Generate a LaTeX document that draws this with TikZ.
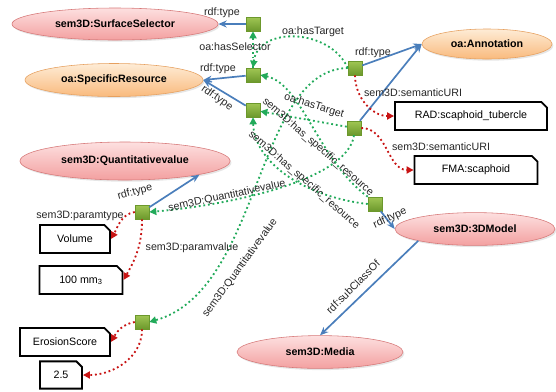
\documentclass[tikz,border=0pt]{standalone}
\usepackage{fontspec}
\setmainfont{Liberation Sans}
\usetikzlibrary{positioning, arrows.meta, shapes.geometric, shapes.misc, shadows}

\definecolor{relblue}{RGB}{74,126,187}
\definecolor{relgreen}{RGB}{34,170,90}
\definecolor{relred}{RGB}{200,20,20}
\definecolor{pinktop}{RGB}{253,224,224}
\definecolor{pinkbot}{RGB}{243,160,160}
\definecolor{pinkline}{RGB}{214,120,120}
\definecolor{orangetop}{RGB}{254,236,214}
\definecolor{orangebot}{RGB}{249,186,125}
\definecolor{orangeline}{RGB}{230,160,95}
\definecolor{blanktop}{RGB}{160,198,84}
\definecolor{blankbot}{RGB}{108,152,44}

\begin{document}
\begin{tikzpicture}[x=0.025cm, y=-0.025cm,
    font=\fontsize{7.6}{9}\selectfont,
    semclass/.style={ellipse, draw=pinkline, top color=pinktop, bottom color=pinkbot,
        inner sep=0pt, font=\fontsize{7.6}{9}\selectfont\bfseries,
        drop shadow={shadow xshift=1pt, shadow yshift=-1.2pt, opacity=0.2}},
    oaclass/.style={semclass, draw=orangeline, top color=orangetop, bottom color=orangebot},
    bnode/.style={rectangle, minimum size=0.35cm, inner sep=0pt, draw=blankbot,
        top color=blanktop, bottom color=blankbot},
    literal/.style={chamfered rectangle, chamfered rectangle corners=north east,
        chamfered rectangle sep=2pt, draw=black, line width=1.3pt, fill=white,
        minimum height=0.7cm, inner sep=1pt},
    typeof/.style={draw=relblue, line width=1.2pt, -{Stealth[length=6pt, width=5pt]}},
    objlink/.style={draw=relgreen, line width=1.3pt, dotted, -{Triangle[length=5pt, width=5pt]}},
    datalink/.style={draw=relred, line width=1.3pt, dotted, -{Triangle[length=5pt, width=5pt]}},
    lbl/.style={inner sep=0.5pt, text=black!85}]

    \useasboundingbox (0,0) rectangle (556,391);

    % Classes
    \node[semclass, minimum width=5.15cm, minimum height=0.8cm] (SS) at (115,24) {sem3D:SurfaceSelector};
    \node[oaclass, minimum width=4.45cm, minimum height=0.825cm] (SR) at (114,80) {oa:SpecificResource};
    \node[oaclass, minimum width=3.25cm, minimum height=0.75cm] (AN) at (487,44) {oa:Annotation};
    \node[semclass, minimum width=5.25cm, minimum height=0.95cm] (QV) at (125,161) {sem3D:Quantitativevalue};
    \node[semclass, minimum width=4cm, minimum height=0.82cm] (TM) at (475,229) {sem3D:3DModel};
    \node[semclass, minimum width=4.15cm, minimum height=0.82cm] (ME) at (320,352) {sem3D:Media};

    % Blank nodes
    \node[bnode] (sel) at (253,24) {};
    \node[bnode] (res1) at (253,75) {};
    \node[bnode] (res2) at (253,110) {};
    \node[bnode] (ann1) at (355,68) {};
    \node[bnode] (ann2) at (354,128) {};
    \node[bnode] (mod) at (375,204) {};
    \node[bnode] (qv1) at (142,212) {};
    \node[bnode] (qv2) at (142,322) {};

    % Literals
    \node[literal, minimum width=3.8cm] (RAD) at (471,116) {RAD:scaphoid\_tubercle};
    \node[literal, minimum width=3.075cm] (FMA) at (476,170) {FMA:scaphoid};
    \node[literal, minimum width=1.75cm] (VOL) at (75,239) {Volume};
    \node[literal, minimum width=2.075cm] (MM) at (81,280) {100 mm\textsubscript{3}};
    \node[literal, minimum width=2.25cm] (ES) at (65,342) {ErosionScore};
    \node[literal, minimum width=1.05cm, minimum height=0.68cm] (VAL) at (61,375) {2.5};

    % rdf:type links
    \draw[typeof] (sel) -- (SS.east);
    \draw[typeof] (res1) -- (SR.east);
    \draw[typeof] (res2) -- (SR.east);
    \draw[typeof] (ann1) -- (AN.west);
    \draw[typeof] (ann2) -- (AN.west);
    \draw[typeof] (mod) -- (TM.west);
    \draw[typeof] (qv1) -- (QV.south east);
    \draw[typeof] (TM.south west) -- (ME.north);

    % Object links
    \draw[objlink] (res1) -- (sel);
    \draw[objlink] (ann1.west) .. controls (330,28) and (258,26) .. (res1.north);
    \draw[objlink] (ann2) -- (res2);
    \draw[objlink] (mod.north west) .. controls (318,160) and (302,84) .. (res1.east);
    \draw[objlink] (mod.west) .. controls (300,196) and (254,160) .. (res2.south);
    \draw[objlink] (ann2.south) .. controls (348,180) and (230,205) .. (qv1.east);
    \draw[objlink] (ann1.west) .. controls (255,70) and (262,290) .. (qv2.east);

    % Data links
    \draw[datalink] (ann1.south) to[out=-90, in=180] (RAD.west);
    \draw[datalink] (ann2.east) to[out=0, in=180] (FMA.west);
    \draw[datalink] (qv1.west) to[out=190, in=60] (VOL.east);
    \draw[datalink] (qv1.south) to[out=-90, in=60] (MM.east);
    \draw[datalink] (qv2.west) to[out=190, in=60] (ES.east);
    \draw[datalink] (qv2.south) to[out=-90, in=0] (VAL.east);

    % Labels
    \node[lbl] (l1) at (222,13) {rdf:type};
    \node[lbl] (l2) at (218,69) {rdf:type};
    \node[lbl, rotate=-35] (l3) at (217,98) {rdf:type};
    \node[lbl] (l4) at (235,47) {oa:hasSelector};
    \node[lbl] (l5) at (313,32) {oa:hasTarget};
    \node[lbl] (l6) at (373,53) {rdf:type};
    \node[lbl, rotate=-17] (l7) at (314,106) {oa:hasTarget};
    \node[lbl] (l8) at (413,93) {sem3D:semanticURI};
    \node[lbl] (l9) at (441,147) {sem3D:semanticURI};
    \node[lbl, rotate=-41] (l10) at (318,147) {sem3D:has\_specific\_resource};
    \node[lbl, rotate=-41] (l11) at (304,180) {sem3D:has\_specific\_resource};
    \node[lbl, rotate=25] (l12) at (390,218) {rdf:type};
    \node[lbl, rotate=15] (l13) at (135,192) {rdf:type};
    \node[lbl, rotate=12] (l14) at (227,196) {sem3D:Quantitativevalue};
    \node[lbl] (l15) at (80,216) {sem3D:paramtype};
    \node[lbl] (l16) at (192,248) {sem3D:paramvalue};
    \node[lbl, rotate=54] (l17) at (240,268) {sem3D:Quantitativevalue};
    \node[lbl, rotate=45] (l18) at (353,287) {rdf:subClassOf};
\end{tikzpicture}
\end{document}
